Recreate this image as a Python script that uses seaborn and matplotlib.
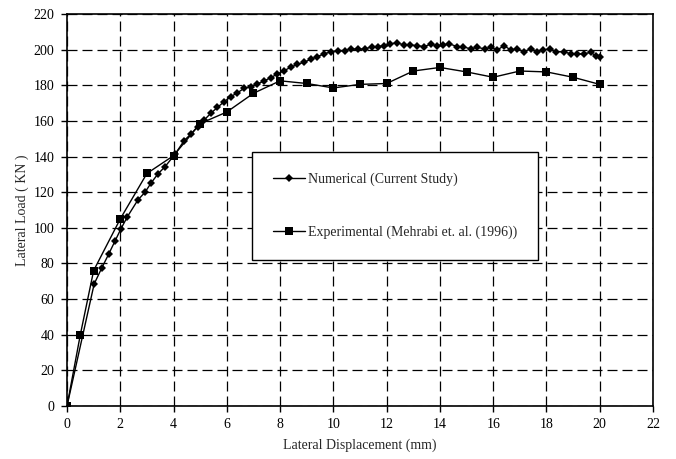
import matplotlib
matplotlib.use("Agg")
import matplotlib.pyplot as plt
import seaborn as sns
import pandas as pd

# Numerical (Current Study)
num_x = [0, 1.02, 1.3, 1.56, 1.81, 2.02, 2.27, 2.66, 2.93, 3.15, 3.41, 3.68, 4.06,
         4.4, 4.65, 4.9, 5.15, 5.4, 5.65, 5.9, 6.15, 6.4, 6.65, 6.9, 7.15, 7.4, 7.65,
         7.9, 8.15, 8.4, 8.65, 8.9, 9.15, 9.4, 9.65, 9.92, 10.17, 10.43, 10.68, 10.93,
         11.18, 11.45, 11.68, 11.89, 12.14, 12.39, 12.64, 12.89, 13.15, 13.4, 13.65,
         13.9, 14.11, 14.36, 14.65, 14.86, 15.15, 15.4, 15.69, 15.92, 16.15, 16.41,
         16.66, 16.91, 17.16, 17.41, 17.66, 17.87, 18.12, 18.37, 18.66, 18.91, 19.16,
         19.41, 19.66, 19.85, 20.0]
num_y = [0, 68.5, 77.3, 85.1, 92.8, 99.3, 106.3, 115.6, 120.0, 125.0, 130.2, 134.3, 141.4,
         149.0, 152.6, 156.8, 160.5, 164.3, 167.6, 170.8, 173.6, 175.8, 178.3, 179.3, 180.8,
         182.4, 184.3, 186.3, 188.2, 190.1, 191.8, 192.9, 194.6, 196.1, 197.6, 198.9,
         199.4, 199.5, 200.3, 200.3, 200.3, 201.7, 201.7, 202.2, 203.2, 203.9, 202.6,
         202.6, 202.2, 201.7, 203.0, 202.2, 202.6, 203.2, 201.7, 201.7, 200.4, 201.3,
         200.4, 201.3, 199.8, 202.2, 199.8, 200.4, 198.9, 200.4, 198.9, 199.8, 200.4,
         198.9, 198.9, 197.6, 197.6, 197.6, 198.5, 196.6, 195.7]

# Experimental (Mehrabi et. al. (1996))
exp_x = [0, 0.5, 1, 2, 3, 4, 5, 6, 7, 8, 9, 10, 11, 12, 13, 14, 15, 16, 17, 18, 19, 20]
exp_y = [0, 40, 76, 105, 130.5, 140.5, 158.5, 165, 175.5, 182.5, 181, 178.5, 180.5,
         181, 188, 190, 187.5, 184.5, 188, 187.5, 184.5, 180.5]

x_ticks = list(range(0, 23, 2))
y_ticks = list(range(0, 221, 20))
num_label = "Numerical (Current Study)"
exp_label = "Experimental (Mehrabi et. al. (1996))"
x_label = "Lateral Displacement (mm)"
y_label = "Lateral Load ( KN )"

sns.set_style("white")
plt.rcParams["font.family"] = ["Liberation Serif", "DejaVu Serif"]

df_num = pd.DataFrame({"x": num_x, "y": num_y})
df_exp = pd.DataFrame({"x": exp_x, "y": exp_y})

fig = plt.figure(figsize=(6.76, 4.59), dpi=100)
ax = fig.add_axes([67/676, 1-406/459, (653-67)/676, (406-14)/459])

sns.lineplot(data=df_num, x="x", y="y", ax=ax, color="black", lw=1.0,
             marker="D", markersize=3.8, markeredgewidth=0, sort=False,
             label=num_label, zorder=4)
sns.lineplot(data=df_exp, x="x", y="y", ax=ax, color="black", lw=1.0,
             marker="s", markersize=6.2, markeredgewidth=0, sort=False,
             label=exp_label, zorder=5)

ax.set_xlim(0, 22)
ax.set_ylim(0, 220)
ax.set_xticks(x_ticks)
ax.set_yticks(y_ticks)
ax.grid(True, color="black", linestyle=(0, (8, 4)), linewidth=0.9)
ax.set_axisbelow(True)
for s in ax.spines.values():
    s.set_color("black")
    s.set_linewidth(1.2)
ax.tick_params(axis="both", which="major", direction="out", length=4, width=1,
               color="black", labelsize=10, labelcolor="black", pad=5, bottom=True, left=True)
ax.set_xlabel(x_label, fontsize=10, labelpad=5)
ax.set_ylabel(y_label, fontsize=10, labelpad=3)

leg = ax.legend(loc="upper left", bbox_to_anchor=(0.316, 0.648), fontsize=10,
                frameon=True, fancybox=False, shadow=False, framealpha=1,
                edgecolor="black", labelspacing=2.8, borderpad=1.5,
                handlelength=2.3, handletextpad=0.2, borderaxespad=0)
leg.get_frame().set_linewidth(1.0)

fig.savefig("out.png", dpi=100)
